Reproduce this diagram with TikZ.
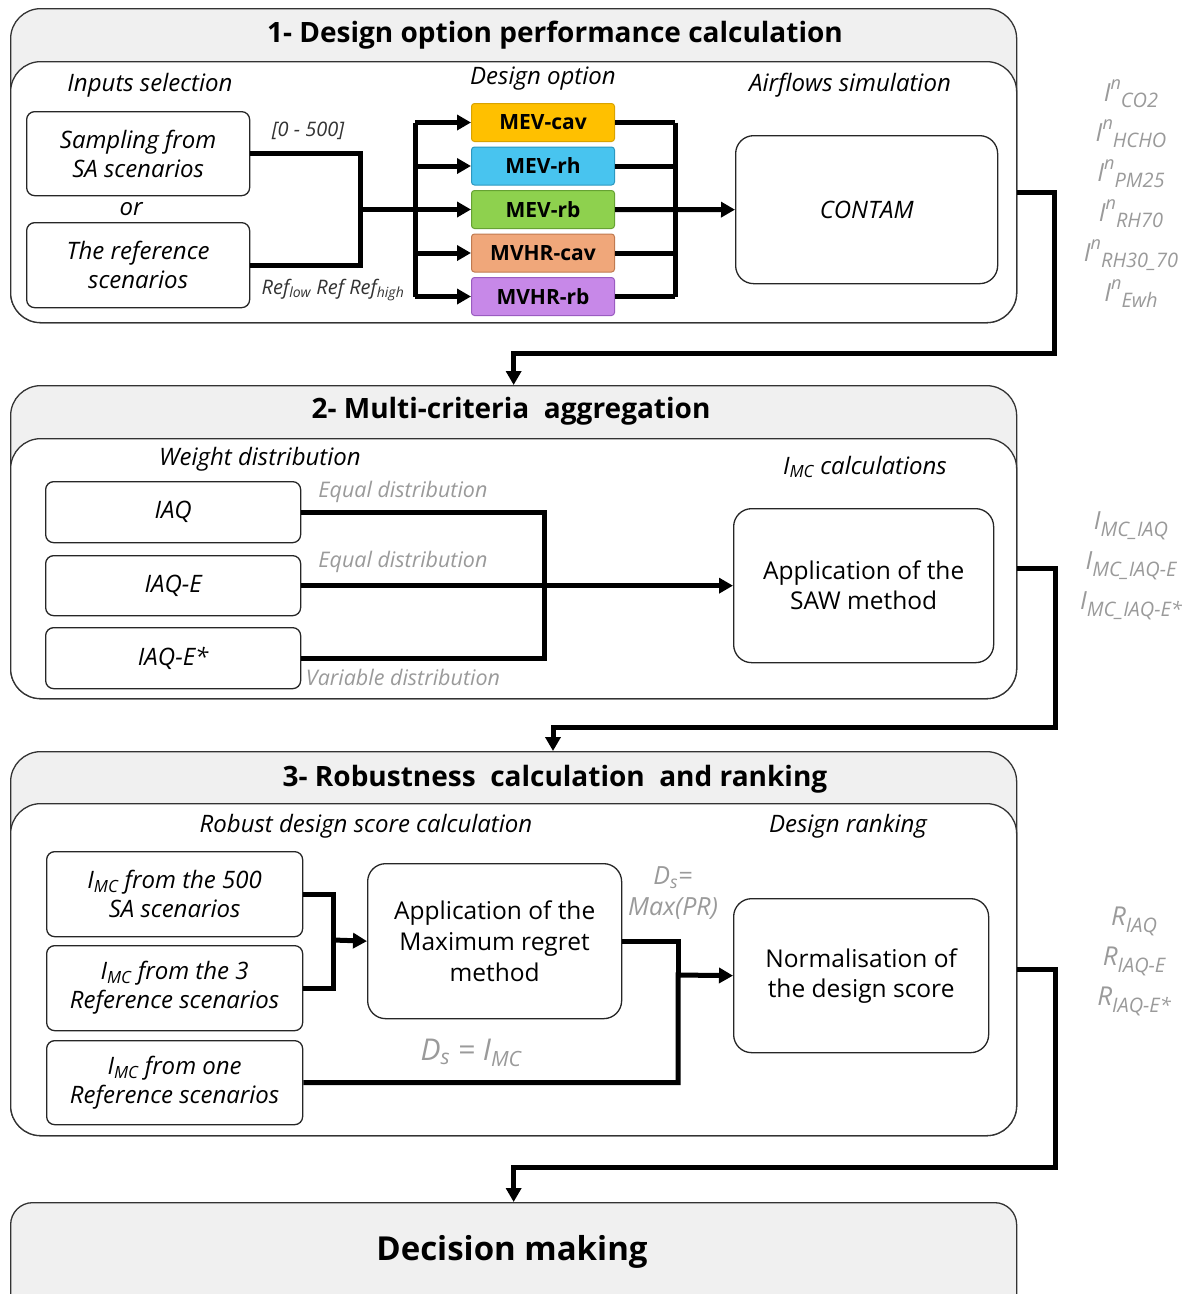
\documentclass[tikz,border=0pt]{standalone}
\usepackage{fontspec}
\setmainfont{Open Sans}
\usetikzlibrary{arrows.meta,calc}
\definecolor{hdr}{HTML}{F0F0F0}
\definecolor{lbl}{HTML}{9A9A9A}
\definecolor{cA}{HTML}{FFC000}\definecolor{cAd}{HTML}{D9A300}
\definecolor{cB}{HTML}{48C4EF}\definecolor{cBd}{HTML}{2C98C0}
\definecolor{cC}{HTML}{8ED14E}\definecolor{cCd}{HTML}{66A232}
\definecolor{cD}{HTML}{F0A77A}\definecolor{cDd}{HTML}{C07A50}
\definecolor{cE}{HTML}{C788E8}\definecolor{cEd}{HTML}{9A5CC0}
\newcommand{\lsub}[1]{\raisebox{-0.5ex}{\fontsize{20}{20}\selectfont #1}}
\newcommand{\lsup}[1]{\raisebox{0.85ex}{\fontsize{18}{18}\selectfont #1}}
\begin{document}
\begin{tikzpicture}[x=1pt,y=-1pt,
  sect/.style={draw=black!80, line width=1.3pt, rounded corners=30pt, fill=hdr, anchor=north west, inner sep=0pt, minimum width=1006pt},
  innr/.style={sect, fill=white},
  ttl/.style={font=\fontsize{28}{32}\selectfont\bfseries},
  ital/.style={font=\fontsize{24}{29}\selectfont\itshape},
  wbox/.style={draw=black!85, line width=1.3pt, rounded corners=8pt, fill=white, anchor=north west, align=center, inner sep=0pt},
  opt/.style={line width=1pt, rounded corners=3pt, anchor=north west, minimum width=143pt, minimum height=38pt, inner sep=0pt, font=\fontsize{21}{24}\selectfont\bfseries},
  glab/.style={text=lbl, font=\fontsize{21.5}{26}\selectfont\itshape},
  olab/.style={text=lbl, align=center, font=\fontsize{25}{40}\selectfont\itshape},
  conn/.style={line width=5pt},
  arr/.style={conn, -{Triangle[length=14pt,width=15pt]}}
]
\useasboundingbox (0,0) rectangle (1192,1294);
\clip (0,0) rectangle (1192,1294);

% ---------------- Section 1
\node[sect, minimum height=314pt] (s1) at (10,8) {};
\node[innr, minimum height=261pt] (s1in) at (10,61) {};
\node[ttl] (t1) at (555,35) {1- Design option performance calculation};
\node[ital] (h11) at (150,85) {Inputs selection};
\node[ital] (h12) at (543,79) {Design option};
\node[ital] (h13) at (850,85) {Airflows simulation};

\node[wbox, minimum width=223pt, minimum height=84pt, ital] (samp) at (26,111) {Sampling from\\SA scenarios};
\node[ital] (or) at (131,209) {or};
\node[wbox, minimum width=223pt, minimum height=85pt, ital] (ref) at (26,222) {The reference\\scenarios};
\node[glab, text=black!80, font=\fontsize{20}{24}\selectfont\itshape] (l500) at (308,131) {[0 - 500]};
\node[glab, text=black!80, font=\fontsize{20}{24}\selectfont\itshape] (lref) at (333,290) {Ref\textsubscript{low} Ref Ref\textsubscript{high}};

\node[opt, fill=cA, draw=cAd] (o1) at (471,103) {MEV-cav};
\node[opt, fill=cB, draw=cBd] (o2) at (471,146.5) {MEV-rh};
\node[opt, fill=cC, draw=cCd] (o3) at (471,190) {MEV-rb};
\node[opt, fill=cD, draw=cDd] (o4) at (471,233.5) {MVHR-cav};
\node[opt, fill=cE, draw=cEd] (o5) at (471,277) {MVHR-rb};

\node[wbox, rounded corners=18pt, minimum width=262pt, minimum height=148pt, ital] (contam) at (735,135) {CONTAM};

\coordinate (j1) at (360,209);
\coordinate (bus) at (415,209);
\coordinate (bus2) at (675,209);
\draw[conn] (samp.east) -| (j1);
\draw[conn] (ref.east) -| (j1);
\draw[conn] (j1) -- (bus);
\draw[conn] (o1.west -| bus) -- (o5.west -| bus);
\foreach \o in {o1,o2,o3,o4,o5} {
  \draw[arr] (\o.west -| bus) -- (\o.west);
}
\foreach \o in {o1,o2,o4,o5} {
  \draw[conn] (\o.east) -- (\o.east -| bus2);
}
\draw[conn] (o1.east -| bus2) -- (o5.east -| bus2);
\draw[arr] (o3.east) -- (contam.west);

\node[olab] (out1) at (1131,194) {I\lsup{n}\lsub{CO2}\\I\lsup{n}\lsub{HCHO}\\I\lsup{n}\lsub{PM25}\\I\lsup{n}\lsub{RH70}\\I\lsup{n}\lsub{RH30\_70}\\I\lsup{n}\lsub{Ewh}};

% ---------------- Section 2
\node[sect, minimum height=313pt] (s2) at (10,385) {};
\node[innr, minimum height=260pt] (s2in) at (10,438) {};
\node[ttl] (t2) at (511,411) {2- Multi-criteria\ \ aggregation};
\node[ital] (h21) at (260,459) {Weight distribution};
\node[ital] (h22) at (865,467) {I\textsubscript{MC} calculations};

\node[wbox, minimum width=255pt, minimum height=61pt, ital] (iaq) at (45,481) {IAQ};
\node[wbox, minimum width=255pt, minimum height=60pt, ital] (iaqe) at (45,555) {IAQ-E};
\node[wbox, minimum width=255pt, minimum height=61pt, ital] (iaqs) at (45,627) {IAQ-E*};
\node[glab] (g1) at (403,492) {Equal distribution};
\node[glab] (g2) at (403,562) {Equal distribution};
\node[glab] (g3) at (403,677) {Variable distribution};

\node[wbox, rounded corners=18pt, minimum width=260pt, minimum height=154pt, font=\fontsize{24.5}{30}\selectfont] (saw) at (733,508) {Application of the\\SAW method};

\coordinate (j2) at (544,585);
\draw[conn] (iaq.east) -| (j2);
\draw[conn] (iaqs.east) -| (j2);
\draw[arr] (iaqe.east) -- (saw.west);

\node[olab] (out2) at (1131,566) {I\lsub{MC\_IAQ}\\I\lsub{MC\_IAQ-E}\\I\lsub{MC\_IAQ-E*}};

% ---------------- Section 3
\node[sect, minimum height=384pt] (s3) at (10,751) {};
\node[innr, minimum height=332pt] (s3in) at (10,803) {};
\node[ttl] (t3) at (555,779) {3- Robustness\ \ calculation\ \ and ranking};
\node[ital] (h31) at (366,826) {Robust design score calculation};
\node[ital] (h32) at (848,826) {Design ranking};

\node[wbox, minimum width=256pt, minimum height=85pt, ital] (m1) at (46,851) {I\textsubscript{MC} from the 500\\SA scenarios};
\node[wbox, minimum width=256pt, minimum height=85pt, ital] (m2) at (46,945) {I\textsubscript{MC} from the 3\\Reference scenarios};
\node[wbox, minimum width=256pt, minimum height=84pt, ital] (m3) at (46,1040) {I\textsubscript{MC} from one\\Reference scenarios};

\node[wbox, rounded corners=18pt, minimum width=254pt, minimum height=155pt, font=\fontsize{24.5}{31}\selectfont] (mr) at (367,863) {Application of the\\Maximum regret\\method};
\node[wbox, rounded corners=18pt, minimum width=255pt, minimum height=154pt, font=\fontsize{24.5}{30}\selectfont] (norm) at (733,898) {Normalisation of\\the design score};

\node[glab, align=center, font=\fontsize{25}{31}\selectfont\itshape] (ds1) at (673,893) {D\textsubscript{s}=\\Max(PR)};
\node[glab, font=\fontsize{30}{34}\selectfont\itshape] (ds2) at (471,1053) {D\textsubscript{s} = I\textsubscript{MC}};

\coordinate (j3) at (333,940);
\coordinate (j4) at (678,975);
\draw[conn] (m1.east) -| (j3);
\draw[conn] (m2.east) -| (j3);
\draw[arr] (j3) -- (mr.west);
\draw[conn] (mr.east) -| (j4);
\draw[arr] (m3.east) -| (j4) -- (norm.west);

\node[olab, font=\fontsize{26}{40}\selectfont\itshape] (out3) at (1134,961) {R\lsub{IAQ}\\R\lsub{IAQ-E}\\R\lsub{IAQ-E*}};

% ---------------- Decision making
\node[sect, rounded corners=22pt, minimum height=140pt] (dm) at (10,1202) {};
\node[font=\fontsize{33}{38}\selectfont\bfseries] (dmt) at (512,1252) {Decision making};

% ---------------- Links between sections
\coordinate (k1) at (1054,353);
\coordinate (k2) at (1055,727);
\coordinate (k3) at (1055,1167);
\coordinate (t3in) at (553,751);
\draw[arr] (s1in.east) -| (k1) -| (s2.north);
\draw[arr] (s2in.east) -| (k2) -| (t3in);
\draw[arr] (s3in.east) -| (k3) -| (dm.north);
\end{tikzpicture}
\end{document}
